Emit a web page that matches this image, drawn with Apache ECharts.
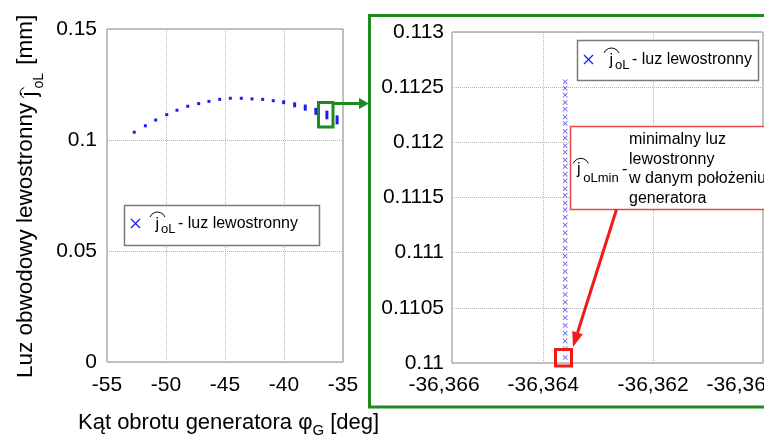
<!DOCTYPE html>
<html lang="pl">
<head>
  <meta charset="UTF-8">
  <title>luz lewostronny</title>
  <style>
    * { margin: 0; padding: 0; }
    body { background: #fff; }
    #chart { width: 764px; height: 439px; }
  </style>
</head>
<body>
  <div id="chart"></div>
  <script src="https://cdn.jsdelivr.net/npm/echarts@6.0.0/dist/echarts.min.js"></script>
  <script>
    // lewy wykres: kat obrotu [deg] -> luz (kazdy znacznik od lo do hi)
    var leftX  = [-52.69, -51.75, -50.87, -49.94, -49.07, -48.16, -47.23, -46.36, -45.45, -44.55,
                  -43.62, -42.71, -41.81, -40.91, -40.03, -39.10, -38.20, -37.30, -36.3636, -35.50];
    var leftLo = [0.1035, 0.1064, 0.1090, 0.1114, 0.1134, 0.1152, 0.1164, 0.1174, 0.1183, 0.1188,
                  0.1188, 0.1185, 0.1183, 0.1177, 0.1168, 0.1154, 0.1139, 0.1120, 0.1100, 0.1077];
    var leftHi = [0.1035, 0.1064, 0.1090, 0.1114, 0.1134, 0.1152, 0.1164, 0.1174, 0.1183, 0.1188,
                  0.1188, 0.1185, 0.1183, 0.1177, 0.1172, 0.1163, 0.1153, 0.1138, 0.11255, 0.1104];

    // prawy wykres: powiekszenie w punkcie -36,3636 deg
    var zoomX = -36.3636;
    var zoomY = [0.11255, 0.11249, 0.11243, 0.11236, 0.11230, 0.11223, 0.11217, 0.11210, 0.11204, 0.11197,
                 0.11191, 0.11184, 0.11178, 0.11171, 0.11165, 0.11158, 0.11152, 0.11145, 0.11139, 0.11132,
                 0.11125, 0.11118, 0.11111, 0.11104, 0.11097, 0.11090, 0.11083, 0.11076, 0.11069, 0.11062,
                 0.11055, 0.11048, 0.11041, 0.11034, 0.11027, 0.11020, 0.11013, 0.11005];
    var zoomXLabels = [-36.36566, -36.364, -36.362, -36.360];
    var zoomXGrid = [-36.364, -36.362];

    var FAM = '"Liberation Sans", Arial, sans-serif';
    var BLUE = '#1c1cf0';
    var GREEN = '#1f8a1f';
    var RED = '#f01a1a';
    var GRAY = '#888';

    var meas = document.createElement('canvas').getContext('2d');
    function textWidth(s, size) {
      meas.font = size + 'px ' + FAM;
      return meas.measureText(s).width;
    }

    function txt(x, y, s, size, extra) {
      var st = { text: s, font: size + 'px ' + FAM, fill: '#000',
        textAlign: 'left', textVerticalAlign: 'middle', align: 'left', verticalAlign: 'middle' };
      for (var k in (extra || {})) st[k] = extra[k];
      return { type: 'text', x: x, y: y, z: 100, style: st };
    }

    // tekst z daszkiem nad j i indeksami dolnymi
    function mathText(x, y, parts, rotation) {
      var kids = [], cx = 0;
      parts.forEach(function (p) {
        cx += p.dx || 0;
        var w = p.w != null ? p.w : textWidth(p.t, p.size);
        kids.push(txt(cx, p.dy || 0, p.t, p.size));
        if (p.hat) {
          var h = p.hat, r = (h.a * h.a + h.s * h.s) / (2 * h.s), th = Math.asin(h.a / r);
          kids.push({ type: 'arc', z: 100,
            shape: { cx: cx + h.cx, cy: h.peak + r, r: r, startAngle: -Math.PI / 2 - th, endAngle: -Math.PI / 2 + th, clockwise: true },
            style: { stroke: '#000', fill: 'none', lineWidth: 1 } });
        }
        cx += w;
      });
      return { type: 'group', x: x, y: y, rotation: rotation || 0, z: 100, children: kids };
    }

    function arrow(x1, y1, x2, y2, color, lw, hl, hw) {
      var dx = x2 - x1, dy = y2 - y1, len = Math.sqrt(dx * dx + dy * dy);
      var ux = dx / len, uy = dy / len, bx = x2 - ux * hl, by = y2 - uy * hl;
      return [
        { type: 'line', z: 100, shape: { x1: x1, y1: y1, x2: bx, y2: by }, style: { stroke: color, lineWidth: lw } },
        { type: 'polygon', z: 100, shape: { points: [[x2, y2], [bx - uy * hw, by + ux * hw], [bx + uy * hw, by - ux * hw]] }, style: { fill: color } }
      ];
    }

    function cross(cx, cy, d) {
      return [
        { type: 'line', z: 100, shape: { x1: cx - d, y1: cy - d, x2: cx + d, y2: cy + d }, style: { stroke: BLUE, lineWidth: 1.2 } },
        { type: 'line', z: 100, shape: { x1: cx - d, y1: cy + d, x2: cx + d, y2: cy - d }, style: { stroke: BLUE, lineWidth: 1.2 } }
      ];
    }

    function legendParts() {
      return [
        { t: 'j', size: 16, dy: 1, w: 5.5, hat: { cx: 2, peak: -11.5, a: 7.5, s: 5 } },
        { t: 'oL', size: 13, dy: 5.5 },
        { t: '- luz lewostronny', size: 16, dx: 2.5 }
      ];
    }

    function fmt(v) { return String(+v.toFixed(4)); }

    var labelStyle = { color: '#000', fontSize: 21, fontFamily: FAM };
    var gridLine = { show: true, lineStyle: { color: '#b4b4b4', type: 'dotted', width: 1 } };

    var graphic = [];
    // zielona ramka i strzalka
    graphic.push({ type: 'rect', z: 100, shape: { x: 318.5, y: 102.5, width: 14.5, height: 24.5 }, style: { stroke: GREEN, fill: 'none', lineWidth: 3 } });
    graphic = graphic.concat(arrow(333, 103.5, 369, 103.5, GREEN, 3, 10, 5.5));
    graphic.push({ type: 'rect', z: 100, shape: { x: 369.5, y: 15.5, width: 420, height: 391.5 }, style: { stroke: GREEN, fill: 'none', lineWidth: 3 } });

    // legenda lewa
    graphic.push({ type: 'rect', z: 100, shape: { x: 124.5, y: 205.5, width: 195, height: 40 }, style: { stroke: '#7a7a7a', fill: '#fff', lineWidth: 1.5 } });
    graphic = graphic.concat(cross(135.5, 223.5, 4.5));
    graphic.push(mathText(155.5, 223.5, legendParts()));

    // legenda prawa
    graphic.push({ type: 'rect', z: 100, shape: { x: 577.5, y: 40.5, width: 181, height: 40 }, style: { stroke: '#7a7a7a', fill: '#fff', lineWidth: 1.5 } });
    graphic = graphic.concat(cross(588.5, 59.5, 4.5));
    graphic.push(mathText(609.5, 59.5, legendParts()));

    // opis minimalnego luzu
    graphic.push({ type: 'rect', z: 100, shape: { x: 570.5, y: 126.5, width: 260, height: 83 }, style: { stroke: '#e84848', fill: '#fff', lineWidth: 1.5 } });
    graphic.push(mathText(577, 169.5, [
      { t: 'j', size: 16, w: 6.3, hat: { cx: 3.8, peak: -11.2, a: 7.5, s: 5 } },
      { t: 'oLmin', size: 13, dy: 9 },
      { t: '-', size: 16, dx: 3.3 }
    ]));
    graphic.push(txt(629, 130, 'minimalny luz\nlewostronny\nw danym położeniu\ngeneratora', 16,
      { textVerticalAlign: 'top', verticalAlign: 'top', lineHeight: 19.5 }));
    graphic = graphic.concat(arrow(616.5, 209.5, 573, 347, RED, 3, 15, 5.5));
    graphic.push({ type: 'rect', z: 100, shape: { x: 555.5, y: 349.5, width: 16, height: 16.5 }, style: { stroke: RED, fill: 'none', lineWidth: 3 } });

    // tytuly osi
    graphic.push(mathText(25.5, 378, [
      { t: 'Luz obwodowy lewostronny ', size: 22.5 },
      { t: 'j', size: 22.5, dy: 4, w: 8, hat: { cx: 4, peak: -5.3, a: 5, s: 4 } },
      { t: 'oL', size: 14, dy: 14 },
      { t: ' [mm]', size: 22.5, dx: 2 }
    ], Math.PI / 2));
    graphic.push(mathText(78, 423, [
      { t: 'Kąt obrotu generatora ', size: 22 },
      { t: 'φ', size: 22 },
      { t: 'G', size: 15, dy: 8 },
      { t: ' [deg]', size: 22 }
    ]));

    // skrajne etykiety osi x prawego wykresu sa przesuniete do srodka
    function zoomLabel(v) {
      var s = v.toFixed(3).replace('.', ',');
      if (v < -36.365) return '{first|' + s + '}';
      if (v > -36.361) return '{last|' + s + '}';
      return s;
    }

    var chart = echarts.init(document.getElementById('chart'));
    chart.setOption({
      animation: false,
      backgroundColor: '#fff',
      grid: [
        { left: 107, top: 29, width: 236, height: 333, show: true, borderColor: GRAY, borderWidth: 1, outerBoundsMode: 'none' },
        { left: 452, top: 32, width: 311, height: 331, show: true, borderColor: GRAY, borderWidth: 1, outerBoundsMode: 'none' }
      ],
      xAxis: [
        { type: 'value', gridIndex: 0, min: -55, max: -35, interval: 5,
          axisLine: { show: false }, axisTick: { show: false }, splitLine: gridLine,
          axisLabel: Object.assign({ margin: 13 }, labelStyle) },
        { type: 'value', gridIndex: 1, min: -36.36566, max: -36.360,
          axisLine: { show: false }, axisTick: { show: false, customValues: zoomXGrid }, splitLine: gridLine,
          axisLabel: Object.assign({ margin: 12, customValues: zoomXLabels, formatter: zoomLabel,
            rich: {
              first: { fontSize: 21, fontFamily: FAM, color: '#000', padding: [0, 16, 0, 0] },
              last: { fontSize: 21, fontFamily: FAM, color: '#000', padding: [0, 42, 0, 0] }
            } }, labelStyle) }
      ],
      yAxis: [
        { type: 'value', gridIndex: 0, min: 0, max: 0.15, interval: 0.05,
          axisLine: { show: false }, axisTick: { show: false }, splitLine: gridLine,
          axisLabel: Object.assign({ margin: 10, formatter: fmt }, labelStyle) },
        { type: 'value', gridIndex: 1, min: 0.11, max: 0.113, interval: 0.0005,
          axisLine: { show: false }, axisTick: { show: false }, splitLine: gridLine,
          axisLabel: Object.assign({ margin: 8, formatter: fmt }, labelStyle) }
      ],
      series: [
        {
          type: 'custom', xAxisIndex: 0, yAxisIndex: 0, z: 5,
          data: leftX.map(function (x, i) { return [x, leftLo[i], leftHi[i]]; }),
          encode: { x: 0, y: [1, 2] },
          renderItem: function (params, api) {
            var lo = api.coord([api.value(0), api.value(1)]);
            var hi = api.coord([api.value(0), api.value(2)]);
            return { type: 'rect', shape: { x: lo[0] - 1.5, y: hi[1] - 1.5, width: 3, height: lo[1] - hi[1] + 3 }, style: { fill: BLUE } };
          }
        },
        {
          type: 'scatter', xAxisIndex: 1, yAxisIndex: 1, z: 5,
          data: zoomY.map(function (y) { return [zoomX, y]; }),
          symbol: 'path://M0,1L1,0L5,4L9,0L10,1L6,5L10,9L9,10L5,6L1,10L0,9L4,5Z',
          symbolSize: 5,
          itemStyle: { color: BLUE }
        }
      ],
      graphic: graphic
    });
  </script>
</body>
</html>
